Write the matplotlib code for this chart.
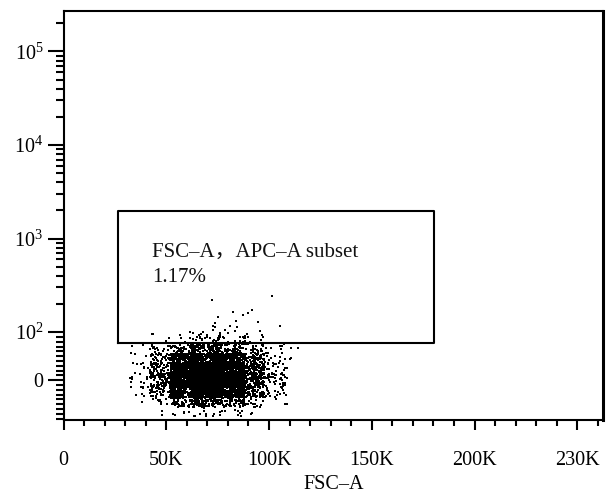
import numpy as np
import matplotlib
matplotlib.use("Agg")
import matplotlib.pyplot as plt
from matplotlib.ticker import FixedLocator, NullFormatter

plt.rcParams['font.family'] = ['Liberation Serif', 'Noto Sans CJK SC']
plt.rcParams['mathtext.fontset'] = 'custom'
plt.rcParams['mathtext.rm'] = 'Liberation Serif'

# event density: counts per cell (rows = APC-A bands, cols = FSC-A bands)
fsc_edges = [35e3, 45e3, 55e3, 65e3, 75e3, 85e3, 95e3, 105e3, 112e3]
apc_edges = [90, 70, 50, 30, 10, -10, -30, -50, -70]
cell_counts = [
    [1, 5, 14, 18, 16, 10, 4, 1],
    [4, 25, 80, 110, 90, 45, 14, 2],
    [8, 60, 230, 300, 240, 100, 25, 3],
    [12, 90, 340, 420, 320, 120, 30, 4],
    [14, 95, 360, 450, 330, 120, 30, 4],
    [10, 70, 290, 360, 250, 95, 25, 3],
    [3, 22, 90, 130, 90, 35, 10, 1],
    [0, 3, 10, 16, 12, 5, 1, 0],
]

# single events outside the dense cloud
out_fsc = [72.1, 101.3, 82.5, 87.3, 89.8, 91.6, 94.6, 105.3, 75.2, 73.7, 73.7, 78.6,
           42.9, 43.6, 61.6, 63.0, 64.8, 69.7, 71.3, 76.1, 77.6, 80.0, 83.4, 85.9,
           89.1, 95.6, 97.1, 83.8, 84.3, 72.7, 72.7, 81.0, 66.0, 68.0, 108.6, 76.2]
out_apc = [219, 242, 164, 152, 159, 171, 129, 116, 145, 125, 114, 105,
           96, 96, 101, 98, 90, 90, 87, 98, 90, 99, 104, 90,
           96, 104, 90, 130, 114, 117, 105, 116, 93, 100, -49, -66]

gate_x = [26.5e3, 180.3e3, 180.3e3, 26.5e3, 26.5e3]
gate_y = [77, 77, 1970, 1970, 77]

x_ticks = [0, 50e3, 100e3, 150e3, 200e3, 250e3]
x_labels = ['0', '50K', '100K', '150K', '200K', '230K']
y_ticks = [0, 1e2, 1e3, 1e4, 1e5]
y_labels = ['0', r'$\mathregular{10^2}$', r'$\mathregular{10^3}$',
            r'$\mathregular{10^4}$', r'$\mathregular{10^5}$']

# spread the counted events over their cells (a little overlap so cell borders don't show)
rng = np.random.default_rng(3)
xs, ys = [], []
for i, row in enumerate(cell_counts):
    for j, n in enumerate(row):
        x0, x1 = fsc_edges[j], fsc_edges[j + 1]
        y0, y1 = apc_edges[i + 1], apc_edges[i]
        wx, wy = 0.3 * (x1 - x0), 0.3 * (y1 - y0)
        xs.append(rng.uniform(x0 - wx, x1 + wx, n))
        ys.append(rng.uniform(y0 - wy, y1 + wy, n))
xs = np.concatenate(xs + [np.array(out_fsc) * 1e3])
ys = np.concatenate(ys + [np.array(out_apc, dtype=float)])

fig = plt.figure(figsize=(6.09, 4.93), dpi=100)
ax = fig.add_axes([0.1043, 0.1481, 0.8859, 0.8296])

ax.scatter(xs, ys, s=2.6, marker='s', linewidths=0, c='black')
ax.plot(gate_x, gate_y, color='black', lw=1.5)

ax.text(43e3, 720, 'FSC–A，APC–A subset', fontsize=15, va='center', ha='left', color='#111111')
ax.text(43e3, 380, '1.17%', fontsize=15, va='center', ha='left', color='#111111')

ax.set_yscale('symlog', linthresh=100, linscale=0.462)
ax.set_ylim(-83, 2.71e5)
ax.set_xlim(0, 262.5e3)

ax.xaxis.set_major_locator(FixedLocator(x_ticks))
ax.set_xticklabels(x_labels)
ax.xaxis.set_minor_locator(FixedLocator(np.arange(0, 262e3, 10e3)))
ax.xaxis.set_minor_formatter(NullFormatter())

minor_y = list(np.arange(-80, 100, 10)) + [k * 10 ** d for d in (2, 3, 4) for k in range(2, 10)] + [2e5]
ax.yaxis.set_major_locator(FixedLocator(y_ticks))
ax.set_yticklabels(y_labels)
ax.yaxis.set_minor_locator(FixedLocator(minor_y))
ax.yaxis.set_minor_formatter(NullFormatter())

ax.tick_params(axis='x', which='major', direction='out', length=7.2, width=1.5, pad=15, labelsize=14.5)
ax.tick_params(axis='x', which='minor', direction='out', length=4.3, width=1.5)
ax.tick_params(axis='y', which='major', direction='out', length=11.5, width=1.5, pad=3, labelsize=14.5)
ax.tick_params(axis='y', which='minor', direction='out', length=5.8, width=1.5)

for s in ax.spines.values():
    s.set_linewidth(1.5)
ax.spines['right'].set_linewidth(2.2)

ax.set_xlabel('FSC–A', fontsize=14.5, labelpad=4)

fig.savefig('out.png', dpi=100)
